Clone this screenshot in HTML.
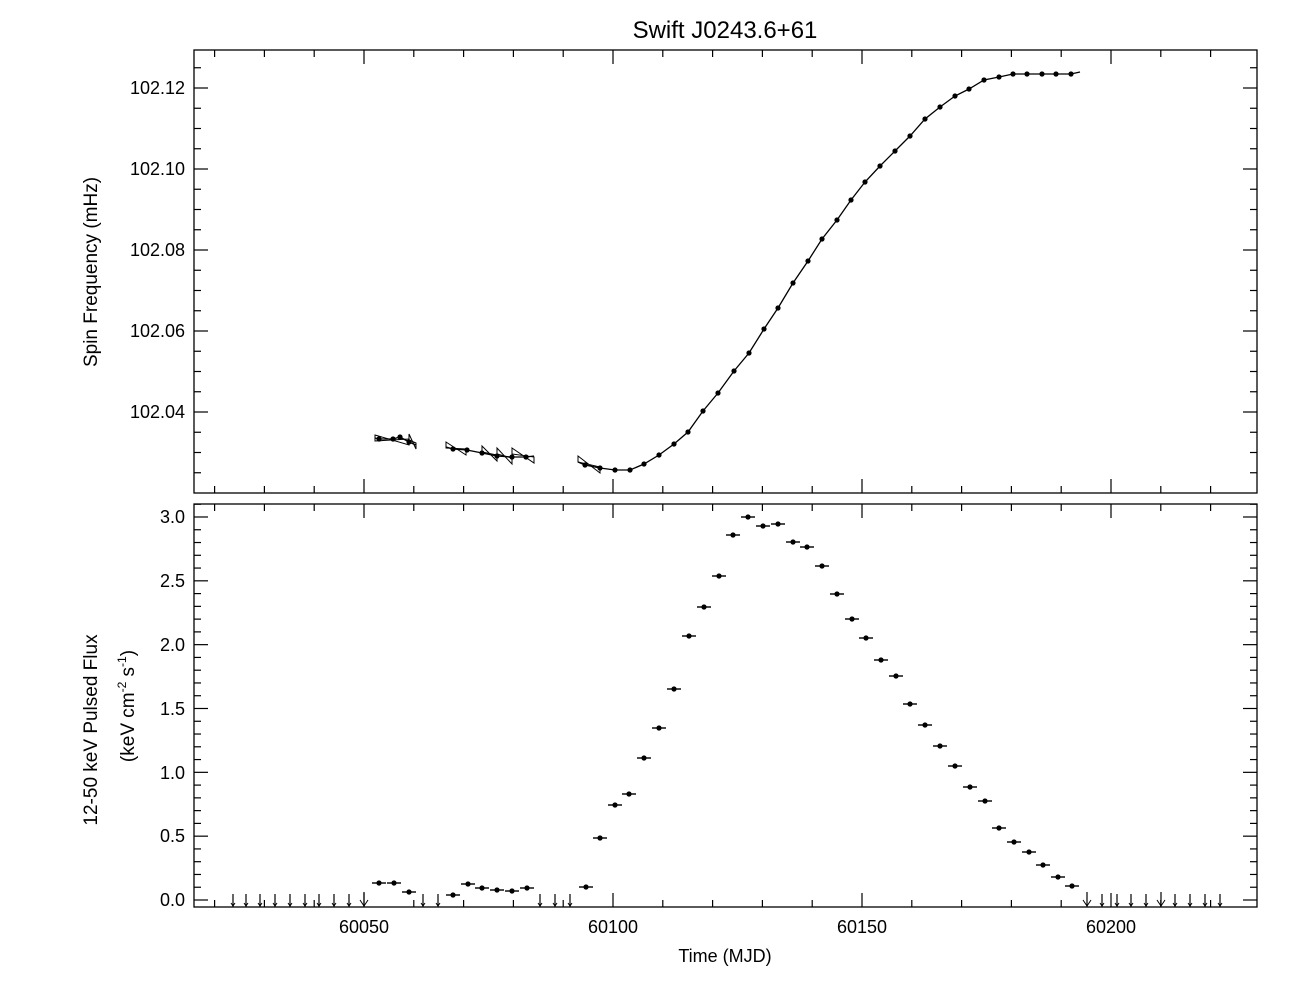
<!DOCTYPE html>
<html><head><meta charset="utf-8"><style>
body{margin:0;background:#fff}
svg{display:block;font-family:"Liberation Sans",sans-serif}
</style></head><body>
<svg id="s" width="1296" height="1008" viewBox="0 0 1296 1008" xmlns="http://www.w3.org/2000/svg">
<rect width="1296" height="1008" fill="#fff"/>
<text x="725" y="38" font-size="24" text-anchor="middle">Swift J0243.6+61</text>
<g fill="none" stroke="#000" stroke-width="1.3">
<rect x="194" y="50" width="1063" height="443"/>
<rect x="194" y="504" width="1063" height="403"/>
</g>
<g id="ticks" stroke="#000" stroke-width="1.2"></g>
<g id="data"></g>
<g font-size="18" text-anchor="middle">
<text x="364" y="933">60050</text><text x="613" y="933">60100</text><text x="862" y="933">60150</text><text x="1111" y="933">60200</text>
<text x="725" y="962">Time (MJD)</text>
</g>
<g font-size="18" text-anchor="end">
<text x="185" y="94">102.12</text><text x="185" y="175">102.10</text><text x="185" y="256">102.08</text><text x="185" y="337">102.06</text><text x="185" y="418">102.04</text>
<text x="185" y="523">3.0</text><text x="185" y="587">2.5</text><text x="185" y="651">2.0</text><text x="185" y="715">1.5</text><text x="185" y="779">1.0</text><text x="185" y="842">0.5</text><text x="185" y="906">0.0</text>
</g>
<text font-size="19" text-anchor="middle" transform="translate(97,272) rotate(-90)">Spin Frequency (mHz)</text>
<text font-size="19" text-anchor="middle" transform="translate(97,730) rotate(-90)">12-50 keV Pulsed Flux</text>
<text font-size="19" text-anchor="middle" transform="translate(134,706) rotate(-90)">(keV cm<tspan font-size="12" dy="-8">-2</tspan><tspan dy="8"> s</tspan><tspan font-size="12" dy="-8">-1</tspan><tspan dy="8">)</tspan></text>
</svg>
<script>
var NS="http://www.w3.org/2000/svg";
function el(p,t,a){var e=document.createElementNS(NS,t);for(var k in a)e.setAttribute(k,a[k]);p.appendChild(e);return e;}
var T=document.getElementById("ticks"),D=document.getElementById("data");
function X(t){return 364+(t-60050)*4.98;}
for(var t=60020;t<=60220;t+=10){var x=X(t),L=(t%50==0)?14:7;
el(T,"line",{x1:x,y1:493,x2:x,y2:493-L});el(T,"line",{x1:x,y1:50,x2:x,y2:50+L});
el(T,"line",{x1:x,y1:907,x2:x,y2:907-L});el(T,"line",{x1:x,y1:504,x2:x,y2:504+L});}
// top y ticks
for(var v=102.025;v<=102.13;v+=0.005){var y=412-(v-102.04)/0.02*81;if(y<50||y>493)continue;
var maj=Math.abs(Math.round(v*100)-v*100)<1e-6&&Math.round(v*1000)%20==0,L=maj?14:7;
el(T,"line",{x1:194,y1:y,x2:194+L,y2:y});el(T,"line",{x1:1257,y1:y,x2:1257-L,y2:y});}
for(var i=0;i<=31;i++){var y=900-i*0.1*127.67;if(y<504)continue;var L=(i%5==0)?14:7;
el(T,"line",{x1:194,y1:y,x2:194+L,y2:y});el(T,"line",{x1:1257,y1:y,x2:1257-L,y2:y});}
// top data
var g1=[[375,438],[379,439],[393,439],[400,437],[409,442],[416,445]];
var g2=[[446,447],[453,449],[467,450],[482,453],[497,456],[512,457],[526,457],[534,456]];
var g3=[[578,462],[585,465],[600,468],[615,470],[630,470],[644,464],[659,455],[674,444],[688,432],[703,411],[718,393],[734,371],[749,353],[764,329],[778,308],[793,283],[808,261],[822,239],[837,220],[851,200],[865,182],[880,166],[895,151],[910,136],[925,119],[940,107],[955,96],[969,89],[984,80],[999,77],[1013,74],[1027,74],[1042,74],[1056,74],[1071,74],[1080,72]];
[g1,g2,g3].forEach(function(g){var p=g.map(function(q){return q.join(",")}).join(" ");
el(D,"polyline",{points:p,fill:"none",stroke:"#000","stroke-width":1.3});
for(var i=1;i<g.length-1;i++)el(D,"circle",{cx:g[i][0],cy:g[i][1],r:2.6,fill:"#000"});});
// bowties
[[375,438,409,442],[409,437,416,446],[446,445,466,452],[482,449,497,458],[497,451,512,461],[512,451,534,460],[578,459,600,470]].forEach(function(b){
el(D,"polygon",{points:b[0]+","+(b[1]-3)+" "+b[2]+","+(b[3]+3)+" "+b[2]+","+(b[3]-3)+" "+b[0]+","+(b[1]+3),fill:"none",stroke:"#000","stroke-width":1});});
// bottom data
var bd=[[379,883],[394,883],[409,892],[453,895],[468,884],[482,888],[497,890],[512,891],[527,888],[586,887],[600,838],[615,805],[629,794],[644,758],[659,728],[674,689],[689,636],[704,607],[719,576],[733,535],[748,517],[763,526],[778,524],[793,542],[807,547],[822,566],[837,594],[852,619],[866,638],[881,660],[896,676],[910,704],[925,725],[940,746],[955,766],[970,787],[985,801],[999,828],[1014,842],[1029,852],[1043,865],[1058,877],[1072,886]];
bd.forEach(function(q){el(D,"line",{x1:q[0]-7,y1:q[1],x2:q[0]+7,y2:q[1],stroke:"#000","stroke-width":1.4});el(D,"circle",{cx:q[0],cy:q[1],r:2.6,fill:"#000"});});
// upper limits
var ul=[233,246,260,275,290,305,319,334,349,364,423,438,540,555,570,1087,1102,1117,1131,1146,1161,1175,1190,1205,1220];
ul.forEach(function(x){var big=(x==364||x==1087||x==1161),top=big?892:894;
el(D,"line",{x1:x,y1:top,x2:x,y2:907,stroke:"#000","stroke-width":1.2});
var a=big?4:2;el(D,"polyline",{points:(x-a)+","+(906-a*1.5)+" "+x+",906 "+(x+a)+","+(906-a*1.5),fill:"none",stroke:"#000","stroke-width":1});});
</script>
</body></html>
